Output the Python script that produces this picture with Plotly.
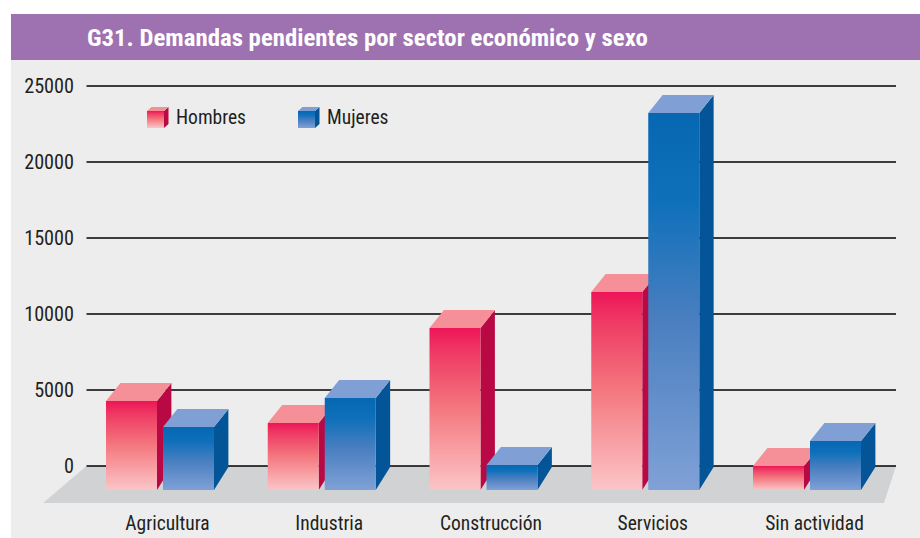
import plotly.graph_objects as go

# ---- data ----
categories = ["Agricultura", "Industria", "Construcción", "Servicios", "Sin actividad"]
hombres = [5460, 4010, 10260, 12630, 1180]
mujeres = [3750, 5660, 1250, 24400, 2830]
y_ticks = [0, 5000, 10000, 15000, 20000, 25000]
title_text = "<b>G31. Demandas pendientes por sector económico y sexo</b>"

# ---- colours ----
RED_SCALE = [[0, "#FBC5C8"], [0.5, "#F4787F"], [0.85, "#EF3A64"], [1, "#ED1558"]]
BLUE_SCALE = [[0, "#80A1D7"], [0.45, "#4A7FC0"], [0.77, "#0E70BA"], [1, "#0767B2"]]
RED_TOP, RED_SIDE = "#F59098", "#B90945"
BLUE_TOP, BLUE_SIDE = "#7F9FD5", "#045597"

# ---- geometry (pixel scale of the photographed page) ----
W, H = 920, 538
PX_PER_CAT = 161.75      # px between categories
PX_PER_UNIT = 380 / 25000
X0_PX, Y0_PX = 167.5, 466  # pixel of category 0 centre and of value 0


def dx(px):
    return px / PX_PER_CAT


def dy(px):
    return px / PX_PER_UNIT


x_range = [(0 - X0_PX) / PX_PER_CAT, (W - X0_PX) / PX_PER_CAT]
y_range = [(Y0_PX - H) / (PX_PER_UNIT), Y0_PX / PX_PER_UNIT]

GRID_L, GRID_R = dx(86.5 - X0_PX), dx(896 - X0_PX)
BAR_W = dx(51)
DEPTH_X, DEPTH_Y = dx(14.4), dy(18)
FRONT_BASE = dy(-24)
BACK_BASE = dy(-1)
H_OFF, M_OFF = dx(106 - X0_PX), dx(163 - X0_PX)

fig = go.Figure()


def poly(xs, ys, name, color=None, scale=None, span=None):
    kw = {}
    if scale is not None:
        kw["fillgradient"] = dict(type="vertical", colorscale=scale, start=span[0], stop=span[1])
    else:
        kw["fillcolor"] = color
    fig.add_trace(go.Scatter(x=xs, y=ys, mode="lines", fill="toself", line=dict(width=0),
                             name=name, showlegend=False, hoverinfo="name", **kw))


def box(x, base, top, width, dxx, dyy, back_base, name, scale, top_c, side_c):
    """Front, side and top faces of a bar whose rear height equals `top`."""
    front_top = top - dyy
    poly([x + width, x + width + dxx, x + width + dxx, x + width],
         [base, back_base, top, front_top], name, color=side_c)
    poly([x, x + dxx, x + width + dxx, x + width],
         [front_top, top, top, front_top], name, color=top_c)
    poly([x, x + width, x + width, x], [base, base, front_top, front_top], name,
         scale=scale, span=(base, front_top))


# floor
poly([dx(43 - X0_PX), GRID_L, GRID_R, dx(884 - X0_PX)],
     [dy(-37), 0, 0, dy(-37)], "Piso", color="#D1D2D4")

# grid lines
gx, gy = [], []
for t in y_ticks:
    gx += [GRID_L, GRID_R, None]
    gy += [t, t, None]
fig.add_trace(go.Scatter(x=gx, y=gy, mode="lines", line=dict(color="#000000", width=1.3),
                         showlegend=False, hoverinfo="skip"))

# bars
for i, cat in enumerate(categories):
    box(i + H_OFF, FRONT_BASE, hombres[i], BAR_W, DEPTH_X, DEPTH_Y, BACK_BASE,
        f"{cat} – Hombres: {hombres[i]}", RED_SCALE, RED_TOP, RED_SIDE)
    box(i + M_OFF, FRONT_BASE, mujeres[i], BAR_W, DEPTH_X, DEPTH_Y, BACK_BASE,
        f"{cat} – Mujeres: {mujeres[i]}", BLUE_SCALE, BLUE_TOP, BLUE_SIDE)

TICK_FONT = dict(family="Roboto Condensed", size=19.5, color="#231F20")
NUM_FONT = dict(family="Roboto Condensed", size=20.2, color="#231F20")

# legend cubes and labels
LEG_Y0 = dy(Y0_PX - 128)
LEG_TOP = dy(Y0_PX - 107)
for px, name, scale, t, s in [(147, "Hombres", RED_SCALE, RED_TOP, RED_SIDE),
                              (298, "Mujeres", BLUE_SCALE, BLUE_TOP, BLUE_SIDE)]:
    box(dx(px - X0_PX), LEG_Y0, LEG_TOP, dx(17), dx(4.5), dy(4), LEG_Y0 + dy(4),
        name, scale, t, s)
    fig.add_annotation(x=dx(px + 29 - X0_PX), y=dy(Y0_PX - 117), text=name, showarrow=False,
                       xanchor="left", yanchor="middle", xshift=-2, font=TICK_FONT)

fig.update_layout(
    width=W, height=H, autosize=False,
    margin=dict(l=0, r=0, t=0, b=0, pad=0),
    paper_bgcolor="white", plot_bgcolor="rgba(0,0,0,0)",
    showlegend=False,
    title=dict(text=title_text, x=87 / W, xanchor="left", xref="paper", y=1 - 37 / H,
               yanchor="middle", yref="container",
               font=dict(family="Roboto Condensed", size=24.8, color="white")),
    xaxis=dict(range=x_range, domain=[0, 1], tickmode="array",
               tickvals=list(range(len(categories))), ticktext=categories,
               showgrid=False, zeroline=False, showline=False, ticks="",
               tickfont=TICK_FONT, anchor="free", position=(H - 509) / H),
    yaxis=dict(range=y_range, domain=[0, 1], tickmode="array", tickvals=y_ticks,
               ticktext=[str(t) for t in y_ticks],
               showgrid=False, zeroline=False, showline=False, ticks="",
               tickfont=NUM_FONT, anchor="free", position=74 / W),
    shapes=[
        dict(type="rect", xref="paper", yref="paper", x0=11 / W, x1=1, y0=0, y1=1 - 60 / H,
             fillcolor="#EDEDED", line_width=0, layer="below"),
        dict(type="rect", xref="paper", yref="paper", x0=11 / W, x1=1, y0=1 - 60 / H, y1=1 - 14 / H,
             fillcolor="#9E72B0", line_width=0, layer="below"),
    ],
)

fig.write_html("out.html", config={"displayModeBar": False},
               post_script="document.body.style.margin='0';")
